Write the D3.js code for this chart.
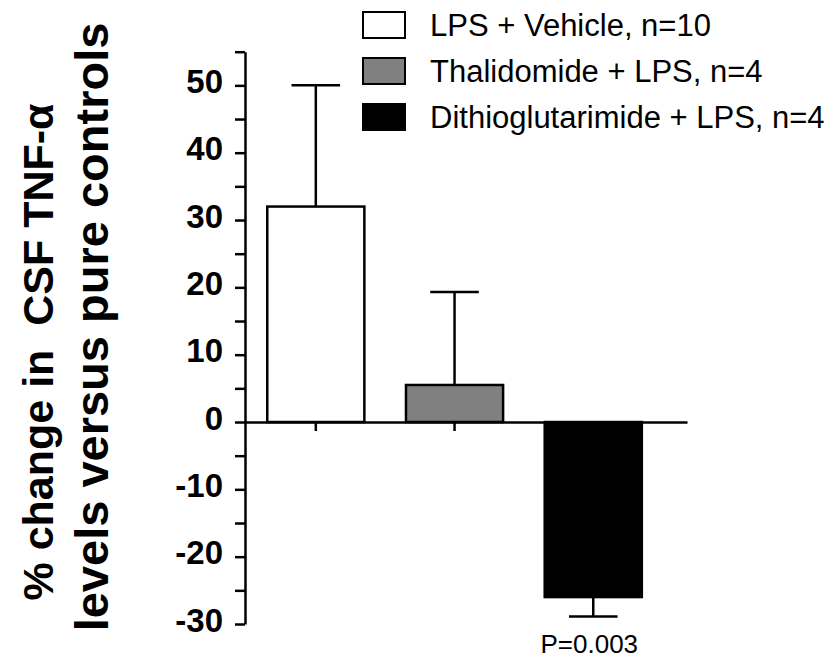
<!DOCTYPE html>
<html>
<head>
<meta charset="utf-8">
<script src="https://cdn.jsdelivr.net/npm/d3@7"></script>
<style>
  body { margin: 0; background: #fff; }
  svg { display: block; font-family: "Liberation Sans", Arial, sans-serif; }
</style>
</head>
<body>
<svg id="chart" width="840" height="660"></svg>
<script>
// values
const categories = ["LPS + Vehicle, n=10", "Thalidomide + LPS, n=4", "Dithioglutarimide + LPS, n=4"]
const means = [32, 5.5, -26]
const errors = [18, 13.8, 2.9]
const fills = ["#ffffff", "#808080", "#000000"]
const yTicks = d3.range(-30, 56, 5)
const yLabelLines = ["% change in \u00a0CSF TNF-\u03b1", "levels versus pure controls"]
const pText = "P=0.003"

const svg = d3.select("#chart")

const y = d3.scaleLinear().domain([-30, 55]).range([624, 51.7])
const x = d3.scaleBand()
  .domain(categories)
  .range([245, 687])
  .paddingInner(0.3)
  .paddingOuter(0.243)
  .align(0.33)

// x axis along zero
const xAxis = svg.append("g")
  .attr("transform", "translate(0," + y(0) + ")")
  .call(d3.axisBottom(x).tickSize(9).tickSizeOuter(0).tickFormat(""))
xAxis.select(".domain").attr("stroke", "#000").attr("stroke-width", 2.5)
xAxis.selectAll(".tick line").attr("stroke", "#000").attr("stroke-width", 2.5)

// y axis
const yAxis = svg.append("g")
  .attr("transform", "translate(245,0)")
  .call(d3.axisLeft(y)
    .tickValues(yTicks)
    .tickSize(10)
    .tickSizeOuter(0)
    .tickPadding(12)
    .tickFormat(d => d % 10 === 0 ? d : ""))
yAxis.select(".domain").attr("stroke", "#000").attr("stroke-width", 2.5)
yAxis.selectAll(".tick line").attr("stroke", "#000").attr("stroke-width", 2.5)
yAxis.selectAll(".tick text")
  .attr("font-family", "'Liberation Sans', Arial, sans-serif")
  .attr("font-size", 33)
  .attr("font-weight", "bold")
  .attr("fill", "#000")
  .attr("dy", "0.22em")

const data = categories.map((c, i) => ({cat: c, mean: means[i], err: errors[i], fill: fills[i]}))

// error bars (drawn first so bar covers the stem)
const eb = svg.append("g").selectAll("g").data(data).join("g")
eb.append("line")
  .attr("x1", d => x(d.cat) + x.bandwidth() / 2)
  .attr("x2", d => x(d.cat) + x.bandwidth() / 2)
  .attr("y1", d => y(d.mean))
  .attr("y2", d => y(d.mean + Math.sign(d.mean) * d.err))
  .attr("stroke", "#000").attr("stroke-width", 2.5)
eb.append("line")
  .attr("x1", d => x(d.cat) + x.bandwidth() / 4)
  .attr("x2", d => x(d.cat) + x.bandwidth() * 3 / 4)
  .attr("y1", d => y(d.mean + Math.sign(d.mean) * d.err))
  .attr("y2", d => y(d.mean + Math.sign(d.mean) * d.err))
  .attr("stroke", "#000").attr("stroke-width", 2.5)

// bars
svg.append("g").selectAll("rect").data(data).join("rect")
  .attr("x", d => x(d.cat))
  .attr("width", x.bandwidth())
  .attr("y", d => y(Math.max(0, d.mean)))
  .attr("height", d => Math.abs(y(d.mean) - y(0)))
  .attr("fill", d => d.fill)
  .attr("stroke", "#000")
  .attr("stroke-width", 2.5)

// p value under the last bar
const last = data[2]
svg.append("text")
  .attr("x", x(last.cat) + x.bandwidth() / 2 - 4)
  .attr("y", 653)
  .attr("text-anchor", "middle")
  .attr("font-size", 26)
  .attr("fill", "#000")
  .text(pText)

// y label, one text per line
svg.append("text")
  .attr("transform", "translate(53,352) rotate(-90)")
  .attr("text-anchor", "middle")
  .attr("font-weight", "bold")
  .attr("font-size", 43)
  .attr("fill", "#000")
  .text(yLabelLines[0])
svg.append("text")
  .attr("transform", "translate(108,327) rotate(-90)")
  .attr("text-anchor", "middle")
  .attr("font-weight", "bold")
  .attr("font-size", 47)
  .attr("fill", "#000")
  .text(yLabelLines[1])

// legend
const leg = svg.append("g").selectAll("g").data(data).join("g")
  .attr("transform", (d, i) => "translate(363," + (36 + i * 46) + ")")
leg.append("rect")
  .attr("x", 0).attr("y", -24)
  .attr("width", 42).attr("height", 26)
  .attr("fill", d => d.fill)
  .attr("stroke", "#000")
  .attr("stroke-width", 2)
leg.append("text")
  .attr("x", 67).attr("y", 0)
  .attr("font-size", 31)
  .attr("fill", "#000")
  .text(d => d.cat)
</script>
</body>
</html>
